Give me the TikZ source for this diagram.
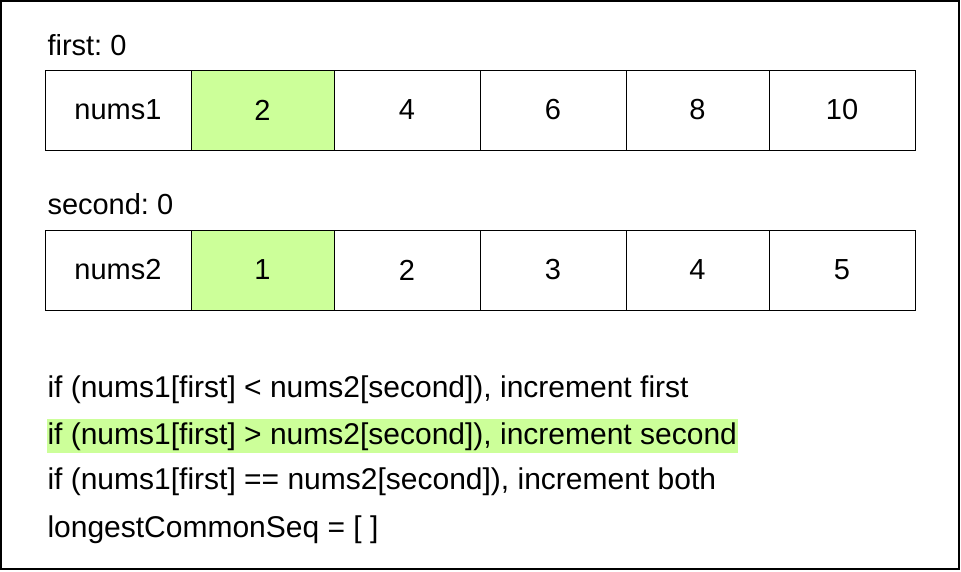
\documentclass[tikz,border=0pt]{standalone}
\usepackage{xcolor}
\usepackage{fontspec}
\setmainfont{Liberation Sans}
\usetikzlibrary{positioning}
\definecolor{hilite}{HTML}{CCFF99}
\frenchspacing

\begin{document}
\begin{tikzpicture}[x=1pt, y=-1pt, line width=1pt,
  cell/.style={draw, minimum height=80pt, inner sep=0pt, font=\fontsize{29}{34}\selectfont},
  txt/.style={anchor=base west, inner xsep=1pt, inner ysep=0pt, font=\fontsize{29}{34}\selectfont},
  rule/.style={txt, font=\fontsize{30}{36}\selectfont}]
\useasboundingbox (0,0) rectangle (961,571);
\draw[line width=1.5pt] (1,1) rectangle (959,569);

% first array
\node[txt] (firstlbl) at (46,55) {first: 0};
\foreach \i/\l/\r/\v/\f in {0/45/191/nums1/white, 1/191/334/2/hilite, 2/334/480/4/white,
    3/480/626/6/white, 4/626/769/8/white, 5/769/915/10/white}
  \node[cell, fill=\f, minimum width={(\r-\l)*1pt}] (a\i) at ({(\l+\r)/2},110) {\v};

% second array
\node[txt] (secondlbl) at (46,214) {second: 0};
\foreach \i/\l/\r/\v/\f in {0/45/191/nums2/white, 1/191/334/1/hilite, 2/334/480/2/white,
    3/480/626/3/white, 4/626/769/4/white, 5/769/915/5/white}
  \node[cell, fill=\f, minimum width={(\r-\l)*1pt}] (b\i) at ({(\l+\r)/2},270) {\v};

% rules
\node[rule] (rule1) at (46,397) {if (nums1[first] < nums2[second]), increment first};
\node[rule, fill=hilite, inner ysep=3pt] (rule2) at (46,444) {if (nums1[first] > nums2[second]), increment second};
\node[rule] (rule3) at (46,489) {if (nums1[first] == nums2[second]), increment both};
\node[rule] (lcs) at (46,537) {longestCommonSeq = [ ]};

\end{tikzpicture}
\end{document}
